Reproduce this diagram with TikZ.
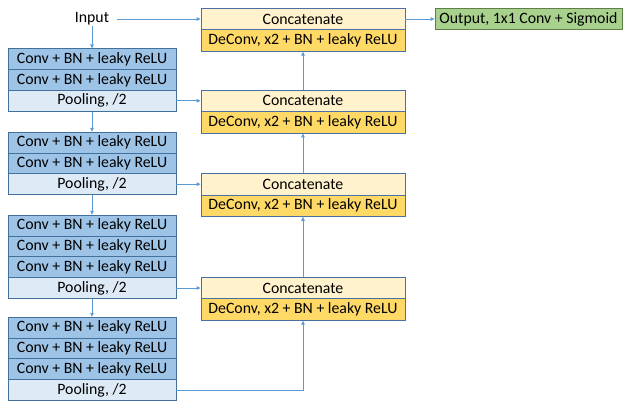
\documentclass[tikz,border=0pt]{standalone}
\usepackage{fontspec}
\setmainfont{Carlito}
\usetikzlibrary{arrows.meta}
\definecolor{convc}{HTML}{9DC3E6}
\definecolor{poolc}{HTML}{DEEBF7}
\definecolor{encb}{HTML}{41719C}
\definecolor{catc}{HTML}{FFF2CC}
\definecolor{decc}{HTML}{FFD966}
\definecolor{decb}{HTML}{4A6FA5}
\definecolor{outc}{HTML}{A9D18E}
\definecolor{outb}{HTML}{5E7F4A}
\definecolor{arrc}{HTML}{5B9BD5}
\begin{document}
\begin{tikzpicture}[x=1pt,y=-1pt,
  lbl/.style={font=\fontsize{15.8}{18}\selectfont, inner sep=0pt},
  enc/.style={lbl, draw=encb, line width=0.8pt, minimum width=168pt, minimum height=20.8pt},
  conv/.style={enc, fill=convc},
  pool/.style={enc, fill=poolc},
  dec/.style={lbl, draw=decb, line width=0.8pt, minimum width=204pt, minimum height=21.5pt},
  cat/.style={dec, fill=catc},
  deconv/.style={dec, fill=decc},
  outbox/.style={lbl, draw=outb, fill=outc, line width=0.8pt, minimum width=187pt, minimum height=20.5pt},
  arr/.style={draw=arrc, line width=0.8pt, -{Triangle[length=4pt,width=3.5pt]}}
]
\useasboundingbox (0,0) rectangle (623,405);
% input
\node[lbl] (in) at (92,19) {Input};
% block 1
\node[conv] (a1) at (92,59.2) {Conv + BN + leaky ReLU};
\node[conv] (a2) at (92,80.0) {Conv + BN + leaky ReLU};
\node[pool] (p1) at (92,100.8) {Pooling, /2};
% block 2
\node[conv] (b1) at (92,142.6) {Conv + BN + leaky ReLU};
\node[conv] (b2) at (92,163.4) {Conv + BN + leaky ReLU};
\node[pool] (p2) at (92,184.2) {Pooling, /2};
% block 3
\node[conv] (c1) at (92,225.6) {Conv + BN + leaky ReLU};
\node[conv] (c2) at (92,246.4) {Conv + BN + leaky ReLU};
\node[conv] (c3) at (92,267.2) {Conv + BN + leaky ReLU};
\node[pool] (p3) at (92,288.0) {Pooling, /2};
% block 4
\node[conv] (d1) at (92,327.6) {Conv + BN + leaky ReLU};
\node[conv] (d2) at (92,348.4) {Conv + BN + leaky ReLU};
\node[conv] (d3) at (92,369.2) {Conv + BN + leaky ReLU};
\node[pool] (p4) at (92,390.0) {Pooling, /2};
% decoder
\node[cat] (k1) at (303,19.0) {Concatenate};
\node[deconv] (u1) at (303,40.5) {DeConv, x2 + BN + leaky ReLU};
\node[cat] (k2) at (303,100.8) {Concatenate};
\node[deconv] (u2) at (303,122.3) {DeConv, x2 + BN + leaky ReLU};
\node[cat] (k3) at (303,184.2) {Concatenate};
\node[deconv] (u3) at (303,205.7) {DeConv, x2 + BN + leaky ReLU};
\node[cat] (k4) at (303,288.0) {Concatenate};
\node[deconv] (u4) at (303,309.5) {DeConv, x2 + BN + leaky ReLU};
% output
\node[outbox] (out) at (528.5,19.0) {Output, 1x1 Conv + Sigmoid};
% arrows
\draw[arr] (in.south) -- (a1.north);
\draw[arr] ([xshift=8pt]in.east) -- (k1.west);
\draw[arr] (p1.south) -- (b1.north);
\draw[arr] (p2.south) -- (c1.north);
\draw[arr] (p3.south) -- (d1.north);
\draw[arr] (p1.east) -- (k2.west);
\draw[arr] (p2.east) -- (k3.west);
\draw[arr] (p3.east) -- (k4.west);
\draw[arr] (p4.east) -| (u4.south);
\draw[arr] (k4.north) -- (u3.south);
\draw[arr] (k3.north) -- (u2.south);
\draw[arr] (k2.north) -- (u1.south);
\draw[arr] (k1.east) -- (out.west);
\end{tikzpicture}
\end{document}
